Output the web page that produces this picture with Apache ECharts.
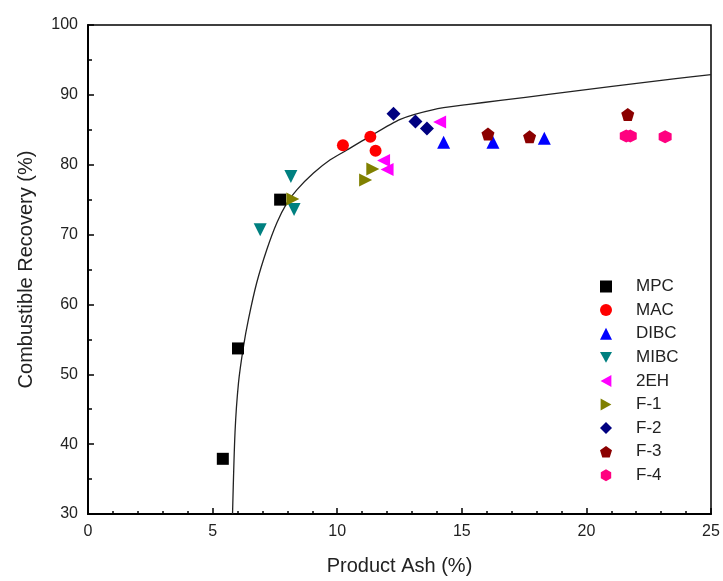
<!DOCTYPE html>
<html>
<head>
<meta charset="utf-8">
<script src="https://cdn.jsdelivr.net/npm/echarts@6/dist/echarts.min.js"></script>
<style>
  html, body { margin: 0; padding: 0; background: #fff; }
  #main { width: 723px; height: 581px; }
</style>
</head>
<body>
<div id="main"></div>
<script>
/* 数据：每个药剂的 产品灰分(x) 和 可燃体回收率(y) */
var mpcX = [5.41, 6.02, 7.71];     var mpcY = [37.9, 53.7, 75.0];
var macX = [10.23, 11.33, 11.54];  var macY = [82.8, 84.0, 82.0];
var dibcX = [14.27, 16.25, 18.31]; var dibcY = [83.2, 83.2, 83.8];
var mibcX = [6.91, 8.14, 8.27];    var mibcY = [70.7, 78.3, 73.6];
var ehX = [11.86, 12.0, 14.11];    var ehY = [80.6, 79.3, 86.1];
var f1X = [8.22, 11.14, 11.43];    var f1Y = [75.1, 77.8, 79.4];
var f2X = [12.26, 13.14, 13.6];    var f2Y = [87.3, 86.2, 85.2];
var f3X = [16.05, 17.72, 21.66];   var f3Y = [84.4, 84.0, 87.2];
var f4X = [21.6, 21.76, 23.16];    var f4Y = [84.1, 84.1, 84.0];

/* 拟合曲线 */
var curveX = [5.8, 5.9, 6.04, 6.24, 6.44, 6.77, 7.18, 7.58, 7.98, 8.38, 9.05, 9.72, 10.39, 11.19, 12.53, 13.87, 15.2, 16.55, 18.56, 23.5, 25];
var curveY = [30, 41.7, 48.8, 54.0, 57.9, 63.1, 67.9, 71.7, 74.5, 76.4, 78.8, 80.7, 82.1, 83.8, 86.5, 87.9, 88.6, 89.2, 90.1, 92.3, 92.9];

function pairs(xs, ys) {
    var out = [];
    for (var i = 0; i < xs.length; i++) {
        out.push([xs[i], ys[i]]);
    }
    return out;
}

var triDown = 'path://M0,0 L10,0 L5,9 Z';
var triLeft = 'path://M9,0 L9,10 L0,5 Z';
var triRight = 'path://M0,0 L9,5 L0,10 Z';
var pentagon = 'path://M50,0 L97.6,34.5 L79.4,90.5 L20.6,90.5 L2.4,34.5 Z';
var hexagon = 'path://M50,0 L93.3,25 L93.3,75 L50,100 L6.7,75 L6.7,25 Z';

var scatterDefs = [
    { name: 'MPC',  x: mpcX,  y: mpcY,  symbol: 'rect',     size: 12, color: '#000000' },
    { name: 'MAC',  x: macX,  y: macY,  symbol: 'circle',   size: 12, color: '#ff0000' },
    { name: 'DIBC', x: dibcX, y: dibcY, symbol: 'triangle', size: 13, color: '#0000ff' },
    { name: 'MIBC', x: mibcX, y: mibcY, symbol: triDown,    size: 13, color: '#008080' },
    { name: '2EH',  x: ehX,   y: ehY,   symbol: triLeft,    size: 13, color: '#ff00ff' },
    { name: 'F-1',  x: f1X,   y: f1Y,   symbol: triRight,   size: 13, color: '#808000' },
    { name: 'F-2',  x: f2X,   y: f2Y,   symbol: 'diamond',  size: 14, color: '#000080' },
    { name: 'F-3',  x: f3X,   y: f3Y,   symbol: pentagon,   size: 13, color: '#8b0000' },
    { name: 'F-4',  x: f4X,   y: f4Y,   symbol: hexagon,    size: 13, color: '#ff0080' }
];

var series = [{
    name: 'fit',
    type: 'line',
    data: pairs(curveX, curveY),
    smooth: 0.25,
    showSymbol: false,
    silent: true,
    z: 1,
    lineStyle: { color: '#222', width: 1.3 }
}];
var legendNames = [];
for (var i = 0; i < scatterDefs.length; i++) {
    var d = scatterDefs[i];
    legendNames.push(d.name);
    series.push({
        name: d.name,
        type: 'scatter',
        symbol: d.symbol,
        symbolSize: d.size,
        itemStyle: { color: d.color, opacity: 1 },
        z: 2,
        data: pairs(d.x, d.y)
    });
}

var myChart = echarts.init(document.getElementById('main'));
var font = 'Liberation Sans, Arial, sans-serif';
var option = {
    animation: false,
    backgroundColor: '#fff',
    grid: {
        left: 88, right: 12, top: 25, bottom: 66,
        show: true, borderColor: '#000', borderWidth: 1.5
    },
    legend: {
        data: legendNames,
        orient: 'vertical',
        left: 595,
        top: 273,
        itemWidth: 12,
        itemHeight: 12,
        itemGap: 6.6,
        textStyle: { fontFamily: font, fontSize: 17, color: '#222', padding: [0, 0, 0, 19] }
    },
    xAxis: {
        type: 'value',
        min: 0, max: 25, interval: 5,
        name: 'Product Ash (%)',
        nameLocation: 'middle',
        nameGap: 42,
        nameTextStyle: { fontFamily: font, fontSize: 20, color: '#222' },
        axisLine: { onZero: false, lineStyle: { color: '#000', width: 2 } },
        axisTick: { inside: true, length: 6, lineStyle: { color: '#000', width: 1.5 } },
        minorTick: { show: true, splitNumber: 5, length: 3, lineStyle: { color: '#000', width: 1.5 } },
        axisLabel: { fontFamily: font, fontSize: 16, color: '#222', margin: 10 },
        splitLine: { show: false }
    },
    yAxis: {
        type: 'value',
        min: 30, max: 100, interval: 10,
        name: 'Combustible Recovery (%)',
        nameLocation: 'middle',
        nameGap: 52,
        nameTextStyle: { fontFamily: font, fontSize: 20, color: '#222' },
        axisLine: { onZero: false, lineStyle: { color: '#000', width: 2 } },
        axisTick: { inside: true, length: 6, lineStyle: { color: '#000', width: 1.5 } },
        minorTick: { show: true, splitNumber: 2, length: 4, lineStyle: { color: '#000', width: 1.5 } },
        axisLabel: { fontFamily: font, fontSize: 16, color: '#222', margin: 10 },
        splitLine: { show: false }
    },
    series: series
};
myChart.setOption(option);
</script>
</body>
</html>
